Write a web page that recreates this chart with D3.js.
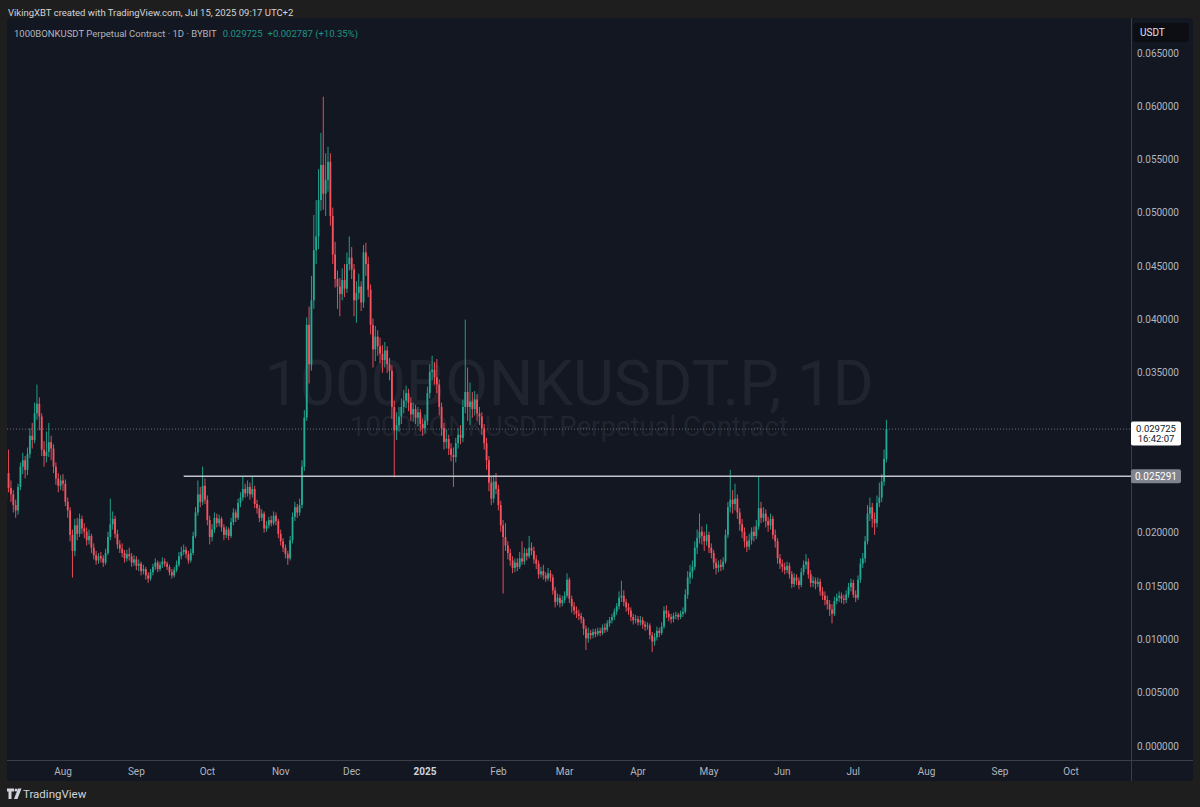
<!DOCTYPE html>
<html>
<head>
<meta charset="utf-8">
<script src="https://cdn.jsdelivr.net/npm/d3@7"></script>
<style>
  html, body { margin: 0; padding: 0; background: #1e1e1e; }
  svg { display: block; font-family: Roboto, "Noto Sans", sans-serif; }
</style>
</head>
<body>
<svg id="chart" width="1200" height="807"></svg>
<script>
"use strict";

// daily candles, 1000BONKUSDT perpetual (Bybit), from 2024-07-08 to 2025-07-15
const firstDay = "2024-07-08";
const firstOpen = 0.0233;

const closes = [
  // Jul 2024
  0.0256,0.0242,0.0236,0.0226,0.0221,0.0243,0.0262,0.0268,0.0259,0.0274,0.0291,0.0287,0.0312,0.0321,0.0309,0.0278,0.0272,0.0276,0.0285,0.0279,0.0262,0.0251,0.0244,0.0249,
  // Aug
  0.0246,0.0229,0.0221,0.0198,0.0183,0.0207,0.0199,0.0213,0.0204,0.0201,0.0193,0.0197,0.0186,0.0179,0.0174,0.0178,0.0176,0.0172,0.0181,0.0196,0.0208,0.0213,0.0199,0.0189,0.0185,0.0181,0.0176,0.0180,0.0178,0.0172,0.0175,
  // Sep
  0.0169,0.0171,0.0164,0.0166,0.0160,0.0157,0.0163,0.0168,0.0172,0.0166,0.0170,0.0173,0.0171,0.0168,0.0163,0.0160,0.0165,0.0170,0.0178,0.0182,0.0184,0.0180,0.0174,0.0181,0.0197,0.0219,0.0236,0.0229,0.0244,0.0231,
  // Oct
  0.0212,0.0196,0.0203,0.0214,0.0209,0.0213,0.0205,0.0198,0.0203,0.0197,0.0210,0.0219,0.0214,0.0228,0.0233,0.0241,0.0237,0.0243,0.0236,0.0241,0.0227,0.0223,0.0214,0.0218,0.0204,0.0207,0.0212,0.0209,0.0216,0.0211,0.0199,
  // Nov
  0.0192,0.0186,0.0180,0.0176,0.0193,0.0215,0.0224,0.0219,0.0226,0.0262,0.0308,0.0395,0.0358,0.0418,0.0465,0.0478,0.0512,0.0545,0.0518,0.0531,0.0548,0.0497,0.0461,0.0438,0.0431,0.0424,0.0437,0.0429,0.0452,0.0458,
  // Dec
  0.0447,0.0418,0.0425,0.0431,0.0416,0.0463,0.0452,0.0428,0.0395,0.0372,0.0384,0.0375,0.0368,0.0362,0.0371,0.0358,0.0352,0.0318,0.0296,0.0301,0.0309,0.0318,0.0324,0.0331,0.0322,0.0311,0.0316,0.0308,0.0313,0.0302,0.0298,
  // Jan 2025
  0.0305,0.0331,0.0351,0.0353,0.0346,0.0339,0.0318,0.0298,0.0285,0.0288,0.0279,0.0273,0.0271,0.0284,0.0292,0.0289,0.0318,0.0332,0.0318,0.0323,0.0316,0.0325,0.0312,0.0309,0.0298,0.0284,0.0268,0.0247,0.0232,0.0248,0.0241,
  // Feb
  0.0226,0.0207,0.0196,0.0188,0.0181,0.0174,0.0167,0.0172,0.0168,0.0176,0.0173,0.0181,0.0178,0.0186,0.0183,0.0175,0.0171,0.0161,0.0164,0.0160,0.0157,0.0162,0.0158,0.0146,0.0135,0.0139,0.0134,0.0137,
  // Mar
  0.0141,0.0156,0.0138,0.0131,0.0127,0.0124,0.0122,0.0119,0.0110,0.0101,0.0106,0.0104,0.0107,0.0105,0.0108,0.0106,0.0111,0.0109,0.0115,0.0118,0.0121,0.0126,0.0131,0.0139,0.0141,0.0135,0.0130,0.0127,0.0121,0.0118,0.0119,
  // Apr
  0.0116,0.0118,0.0114,0.0112,0.0113,0.0104,0.0098,0.0102,0.0108,0.0106,0.0112,0.0127,0.0124,0.0121,0.0119,0.0122,0.0123,0.0121,0.0124,0.0126,0.0142,0.0158,0.0163,0.0168,0.0186,0.0195,0.0201,0.0197,0.0192,0.0198,
  // May
  0.0186,0.0181,0.0172,0.0167,0.0170,0.0168,0.0173,0.0198,0.0224,0.0231,0.0227,0.0232,0.0219,0.0208,0.0201,0.0192,0.0187,0.0193,0.0201,0.0197,0.0206,0.0223,0.0214,0.0218,0.0211,0.0207,0.0213,0.0198,0.0192,0.0176,0.0171,
  // Jun
  0.0168,0.0165,0.0169,0.0161,0.0152,0.0158,0.0155,0.0151,0.0163,0.0170,0.0173,0.0161,0.0153,0.0155,0.0152,0.0154,0.0145,0.0141,0.0137,0.0133,0.0128,0.0124,0.0136,0.0139,0.0141,0.0138,0.0137,0.0142,0.0149,0.0153,
  // Jul
  0.0142,0.0139,0.0156,0.0171,0.0176,0.0192,0.0218,0.0224,0.0213,0.0209,0.0228,0.0233,0.0248,0.026938,0.029725
];

const highs = [
  0.0266,0.0278,0.0249,0.0240,0.0231,0.0246,0.0266,0.0275,0.0272,0.0280,0.0298,0.0303,0.0322,0.0339,0.0327,0.0312,0.0286,0.0295,0.0303,0.0291,0.0283,0.0266,0.0256,0.0254,
  0.0255,0.0250,0.0233,0.0224,0.0203,0.0213,0.0214,0.0218,0.0216,0.0209,0.0205,0.0203,0.0199,0.0190,0.0183,0.0181,0.0182,0.0179,0.0185,0.0201,0.0232,0.0220,0.0216,0.0203,0.0193,0.0190,0.0184,0.0184,0.0186,0.0181,0.0179,
  0.0178,0.0175,0.0173,0.0170,0.0168,0.0163,0.0166,0.0171,0.0176,0.0174,0.0173,0.0177,0.0176,0.0173,0.0170,0.0166,0.0168,0.0174,0.0182,0.0187,0.0189,0.0187,0.0183,0.0185,0.0201,0.0224,0.0249,0.0243,0.0262,0.0251,
  0.0235,0.0216,0.0208,0.0219,0.0218,0.0217,0.0215,0.0208,0.0206,0.0205,0.0214,0.0223,0.0222,0.0232,0.0238,0.0253,0.0246,0.0249,0.0247,0.0253,0.0244,0.0231,0.0226,0.0222,0.0220,0.0211,0.0215,0.0216,0.0220,0.0219,0.0213,
  0.0203,0.0195,0.0189,0.0183,0.0197,0.0219,0.0229,0.0227,0.0232,0.0268,0.0315,0.0402,0.0412,0.0441,0.0498,0.0512,0.0541,0.0575,0.0609,0.0556,0.0562,0.0556,0.0505,0.0473,0.0446,0.0439,0.0448,0.0452,0.0463,0.0478,
  0.0468,0.0452,0.0436,0.0443,0.0436,0.0470,0.0472,0.0459,0.0433,0.0401,0.0394,0.0390,0.0383,0.0376,0.0379,0.0375,0.0364,0.0357,0.0324,0.0313,0.0318,0.0326,0.0334,0.0338,0.0335,0.0327,0.0322,0.0320,0.0318,0.0316,0.0307,
  0.0311,0.0337,0.0358,0.0366,0.0360,0.0363,0.0344,0.0322,0.0303,0.0297,0.0292,0.0284,0.0280,0.0289,0.0298,0.0301,0.0325,0.0400,0.0355,0.0341,0.0332,0.0333,0.0330,0.0318,0.0313,0.0302,0.0289,0.0272,0.0253,0.0254,0.0256,
  0.0245,0.0230,0.0212,0.0209,0.0192,0.0185,0.0178,0.0176,0.0176,0.0182,0.0192,0.0186,0.0185,0.0197,0.0191,0.0187,0.0179,0.0174,0.0168,0.0170,0.0163,0.0167,0.0165,0.0161,0.0149,0.0143,0.0142,0.0141,
  0.0145,0.0162,0.0158,0.0141,0.0135,0.0131,0.0128,0.0125,0.0121,0.0113,0.0111,0.0109,0.0110,0.0110,0.0111,0.0111,0.0114,0.0115,0.0118,0.0121,0.0124,0.0129,0.0134,0.0145,0.0155,0.0146,0.0138,0.0134,0.0130,0.0124,0.0123,
  0.0122,0.0122,0.0121,0.0117,0.0116,0.0115,0.0107,0.0106,0.0112,0.0111,0.0116,0.0131,0.0132,0.0127,0.0124,0.0125,0.0126,0.0125,0.0127,0.0130,0.0147,0.0164,0.0170,0.0174,0.0192,0.0203,0.0218,0.0206,0.0201,0.0208,
  0.0201,0.0190,0.0184,0.0176,0.0174,0.0175,0.0177,0.0203,0.0229,0.0259,0.0240,0.0246,0.0236,0.0223,0.0213,0.0205,0.0197,0.0199,0.0205,0.0206,0.0212,0.0253,0.0229,0.0224,0.0222,0.0215,0.0218,0.0216,0.0203,0.0195,0.0180,
  0.0175,0.0172,0.0173,0.0172,0.0164,0.0162,0.0161,0.0158,0.0167,0.0174,0.0180,0.0176,0.0165,0.0159,0.0158,0.0158,0.0157,0.0149,0.0145,0.0141,0.0137,0.0133,0.0140,0.0143,0.0145,0.0144,0.0142,0.0146,0.0153,0.0157,
  0.0156,0.0146,0.0160,0.0176,0.0181,0.0197,0.0226,0.0233,0.0228,0.0219,0.0235,0.0247,0.0255,0.0278,0.0306
];

const lows = [
  0.0228,0.0238,0.0229,0.0219,0.0214,0.0217,0.0240,0.0255,0.0251,0.0254,0.0270,0.0279,0.0284,0.0306,0.0296,0.0272,0.0262,0.0266,0.0271,0.0268,0.0256,0.0245,0.0238,0.0240,
  0.0239,0.0225,0.0214,0.0192,0.0158,0.0178,0.0193,0.0196,0.0199,0.0195,0.0188,0.0189,0.0181,0.0175,0.0170,0.0171,0.0172,0.0168,0.0170,0.0179,0.0193,0.0203,0.0195,0.0185,0.0181,0.0177,0.0172,0.0173,0.0174,0.0168,0.0169,
  0.0165,0.0164,0.0160,0.0161,0.0156,0.0153,0.0155,0.0160,0.0165,0.0163,0.0164,0.0167,0.0168,0.0165,0.0160,0.0157,0.0158,0.0163,0.0168,0.0175,0.0179,0.0176,0.0171,0.0172,0.0179,0.0195,0.0216,0.0224,0.0226,0.0227,
  0.0207,0.0189,0.0192,0.0200,0.0205,0.0206,0.0201,0.0193,0.0195,0.0193,0.0195,0.0207,0.0210,0.0212,0.0224,0.0230,0.0233,0.0234,0.0231,0.0233,0.0223,0.0218,0.0210,0.0211,0.0200,0.0201,0.0204,0.0206,0.0207,0.0207,0.0195,
  0.0188,0.0182,0.0176,0.0170,0.0174,0.0190,0.0211,0.0214,0.0216,0.0223,0.0258,0.0305,0.0340,0.0352,0.0410,0.0452,0.0466,0.0502,0.0503,0.0497,0.0520,0.0488,0.0452,0.0430,0.0410,0.0403,0.0418,0.0421,0.0425,0.0446,
  0.0438,0.0403,0.0397,0.0419,0.0408,0.0411,0.0441,0.0421,0.0386,0.0355,0.0361,0.0366,0.0359,0.0350,0.0355,0.0350,0.0343,0.0307,0.0252,0.0287,0.0295,0.0302,0.0312,0.0317,0.0314,0.0305,0.0304,0.0302,0.0300,0.0295,0.0291,
  0.0293,0.0301,0.0326,0.0343,0.0339,0.0331,0.0310,0.0291,0.0278,0.0279,0.0273,0.0267,0.0243,0.0266,0.0279,0.0283,0.0285,0.0312,0.0305,0.0301,0.0308,0.0310,0.0305,0.0301,0.0292,0.0278,0.0259,0.0239,0.0226,0.0228,0.0236,
  0.0221,0.0201,0.0143,0.0183,0.0175,0.0169,0.0162,0.0163,0.0164,0.0166,0.0170,0.0170,0.0174,0.0176,0.0179,0.0171,0.0166,0.0157,0.0158,0.0156,0.0154,0.0155,0.0154,0.0142,0.0130,0.0132,0.0130,0.0131,
  0.0134,0.0139,0.0134,0.0125,0.0123,0.0120,0.0118,0.0115,0.0104,0.0090,0.0097,0.0100,0.0101,0.0102,0.0103,0.0103,0.0104,0.0106,0.0107,0.0112,0.0115,0.0118,0.0123,0.0128,0.0135,0.0131,0.0126,0.0123,0.0117,0.0114,0.0115,
  0.0113,0.0113,0.0110,0.0108,0.0109,0.0100,0.0088,0.0094,0.0099,0.0102,0.0104,0.0110,0.0120,0.0117,0.0115,0.0116,0.0119,0.0118,0.0119,0.0121,0.0124,0.0138,0.0152,0.0157,0.0165,0.0180,0.0190,0.0189,0.0183,0.0188,
  0.0181,0.0176,0.0166,0.0161,0.0163,0.0164,0.0165,0.0171,0.0195,0.0219,0.0218,0.0221,0.0213,0.0202,0.0195,0.0186,0.0182,0.0184,0.0189,0.0192,0.0194,0.0203,0.0209,0.0210,0.0205,0.0201,0.0203,0.0194,0.0186,0.0171,0.0166,
  0.0163,0.0161,0.0162,0.0157,0.0148,0.0149,0.0151,0.0147,0.0149,0.0160,0.0166,0.0157,0.0149,0.0149,0.0147,0.0149,0.0141,0.0137,0.0132,0.0128,0.0122,0.0115,0.0122,0.0133,0.0135,0.0134,0.0133,0.0134,0.0139,0.0145,
  0.0139,0.0135,0.0137,0.0153,0.0167,0.0172,0.0189,0.0211,0.0205,0.0198,0.0205,0.0224,0.0229,0.0244,0.0266
];

// 0.030000 and 0.025000 sit under the two price labels, so they are not drawn
const priceTicks = [0, 0.005, 0.01, 0.015, 0.02, 0.035, 0.04, 0.045, 0.05, 0.055, 0.06, 0.065];
const monthTicks = ["2024-08-01","2024-09-01","2024-10-01","2024-11-01","2024-12-01","2025-01-01","2025-02-01",
                    "2025-03-01","2025-04-01","2025-05-01","2025-06-01","2025-07-01","2025-08-01","2025-09-01","2025-10-01"];
const monthNames = ["Aug","Sep","Oct","Nov","Dec","2025","Feb","Mar","Apr","May","Jun","Jul","Aug","Sep","Oct"];

const lastPrice = 0.029725;
const lastChange = "+0.002787 (+10.35%)";
const countdown = "16:42:07";
const levelPrice = 0.025291;
const levelStart = "2024-09-21";

const W = 1200, H = 807;
const panel = { x: 7, y: 18, r: 1193, b: 781 };
const plot = { x: 7, y: 18, r: 1131, b: 760 };

const upColor = "#22ab94", downColor = "#f7525f";
const textColor = "#b2b5be";

const parse = d3.utcParse("%Y-%m-%d");
const day0 = parse(firstDay);

const candles = closes.map(function(c, i) {
  return {
    date: d3.utcDay.offset(day0, i),
    open: i === 0 ? firstOpen : closes[i - 1],
    close: c,
    high: highs[i],
    low: lows[i]
  };
});

const x = d3.scaleUtc()
  .domain([parse("2024-08-01"), parse("2025-10-01")])
  .range([63, 1071]);

const y = d3.scaleLinear()
  .domain([0, 0.065])
  .range([746, 53]);

const svg = d3.select("#chart");

svg.append("rect").attr("width", W).attr("height", H).attr("fill", "#1e1e1e");

svg.append("rect")
  .attr("x", panel.x).attr("y", panel.y)
  .attr("width", panel.r - panel.x).attr("height", panel.b - panel.y)
  .attr("rx", 3)
  .attr("fill", "#131722");

// top caption
svg.append("text")
  .attr("x", 8).attr("y", 15.5)
  .attr("fill", "#d1d4dc")
  .style("font-size", "9.5px")
  .text("VikingXBT created with TradingView.com, Jul 15, 2025 09:17 UTC+2");

// watermark (symbol + description, one block)
const mid = (plot.x + plot.r) / 2;
const mark = svg.append("text")
  .attr("text-anchor", "middle")
  .attr("fill", "#20242f");
mark.append("tspan")
  .attr("x", mid).attr("y", 405)
  .style("font-size", "63px")
  .text("1000BONKUSDT.P, 1D");
mark.append("tspan")
  .attr("x", mid).attr("y", 436)
  .style("font-size", "27.5px")
  .text("1000BONKUSDT Perpetual Contract");

// legend
const legend = svg.append("text")
  .attr("x", 14).attr("y", 36.5)
  .style("font-size", "9.5px");
legend.append("tspan").attr("fill", textColor).text("1000BONKUSDT Perpetual Contract · 1D · BYBIT");
legend.append("tspan").attr("fill", "#1f9483").attr("dx", 6).text(lastPrice.toFixed(6));
legend.append("tspan").attr("fill", "#1f9483").attr("dx", 5).text(lastChange);

// candles
svg.append("clipPath").attr("id", "plotClip")
  .append("rect")
  .attr("x", plot.x).attr("y", plot.y)
  .attr("width", plot.r - plot.x).attr("height", plot.b - plot.y);

const gPlot = svg.append("g").attr("clip-path", "url(#plotClip)");

// last price dotted line
gPlot.append("line")
  .attr("x1", plot.x).attr("x2", plot.r)
  .attr("y1", y(lastPrice)).attr("y2", y(lastPrice))
  .attr("stroke", "#6a6d78")
  .attr("stroke-width", 1)
  .attr("stroke-dasharray", "1,2");

const candle = gPlot.selectAll(".candle")
  .data(candles)
  .enter()
  .append("g")
  .attr("class", "candle")
  .attr("fill", function(d) { return d.close >= d.open ? upColor : downColor; })
  .attr("stroke", function(d) { return d.close >= d.open ? upColor : downColor; });

candle.append("line")
  .attr("x1", function(d) { return x(d.date); })
  .attr("x2", function(d) { return x(d.date); })
  .attr("y1", function(d) { return y(d.high); })
  .attr("y2", function(d) { return y(d.low); })
  .attr("stroke-width", 0.9);

candle.append("rect")
  .attr("stroke", "none")
  .attr("x", function(d) { return x(d.date) - 0.9; })
  .attr("width", 1.8)
  .attr("y", function(d) { return y(Math.max(d.open, d.close)); })
  .attr("height", function(d) {
    return Math.max(1, Math.abs(y(d.open) - y(d.close)));
  });

// horizontal ray at the breakout level
gPlot.append("line")
  .attr("x1", x(parse(levelStart))).attr("x2", plot.r)
  .attr("y1", y(levelPrice)).attr("y2", y(levelPrice))
  .attr("stroke", "#c3c5cc")
  .attr("stroke-width", 1.5);

// axis separators
svg.append("line")
  .attr("x1", plot.r + 0.5).attr("x2", plot.r + 0.5)
  .attr("y1", panel.y).attr("y2", panel.b)
  .attr("stroke", "#3a3e49");
svg.append("line")
  .attr("x1", panel.x).attr("x2", panel.r)
  .attr("y1", plot.b + 0.5).attr("y2", plot.b + 0.5)
  .attr("stroke", "#3a3e49");

// price axis
svg.append("g").selectAll("text")
  .data(priceTicks)
  .enter()
  .append("text")
  .attr("x", 1137)
  .attr("y", function(d) { return y(d); })
  .attr("dy", "0.35em")
  .attr("fill", textColor)
  .style("font-size", "10px")
  .text(function(d) { return d.toFixed(6); });

// currency badge
svg.append("rect")
  .attr("x", 1133).attr("y", 23).attr("width", 56).attr("height", 19)
  .attr("rx", 3).attr("fill", "#0c0e14");
svg.append("text")
  .attr("x", 1140).attr("y", 32.5).attr("dy", "0.35em")
  .attr("fill", "#e0e3eb")
  .style("font-size", "10px")
  .text("USDT");

// last price label with countdown
svg.append("rect")
  .attr("x", plot.r).attr("y", y(lastPrice) - 7.5)
  .attr("width", 50).attr("height", 24)
  .attr("rx", 2).attr("fill", "#ffffff");
svg.append("text")
  .attr("x", plot.r + 25).attr("y", y(lastPrice) - 0.5).attr("dy", "0.35em")
  .attr("text-anchor", "middle")
  .attr("fill", "#131722")
  .style("font-size", "9.5px")
  .text(lastPrice.toFixed(6));
svg.append("text")
  .attr("x", plot.r + 25).attr("y", y(lastPrice) + 10).attr("dy", "0.35em")
  .attr("text-anchor", "middle")
  .attr("fill", "#131722")
  .style("font-size", "9.5px")
  .text(countdown);

// level label
svg.append("rect")
  .attr("x", plot.r).attr("y", y(levelPrice) - 7)
  .attr("width", 50).attr("height", 14)
  .attr("rx", 2).attr("fill", "#80838d");
svg.append("text")
  .attr("x", plot.r + 25).attr("y", y(levelPrice)).attr("dy", "0.35em")
  .attr("text-anchor", "middle")
  .attr("fill", "#ffffff")
  .style("font-size", "10px")
  .text(levelPrice.toFixed(6));

// time axis
svg.append("g").selectAll("text")
  .data(monthTicks)
  .enter()
  .append("text")
  .attr("x", function(d) { return x(parse(d)); })
  .attr("y", 771)
  .attr("dy", "0.35em")
  .attr("text-anchor", "middle")
  .attr("fill", function(d, i) { return monthNames[i] === "2025" ? "#d1d4dc" : textColor; })
  .style("font-size", "10px")
  .style("font-weight", function(d, i) { return monthNames[i] === "2025" ? "bold" : "normal"; })
  .text(function(d, i) { return monthNames[i]; });

// footer logo
const logo = svg.append("g").attr("fill", "#d1d4dc");
logo.append("path").attr("d", "M7 788.5 h7 v3 h-2.5 v7.5 h-3 v-7.5 h-1.5 z");
logo.append("circle").attr("cx", 16).attr("cy", 790).attr("r", 1.5);
logo.append("path").attr("d", "M18 788.5 h3.5 l-4 10.5 h-3.5 z");
svg.append("text")
  .attr("x", 23).attr("y", 797.5)
  .attr("fill", "#d1d4dc")
  .style("font-size", "11.5px")
  .text("TradingView");
</script>
</body>
</html>
